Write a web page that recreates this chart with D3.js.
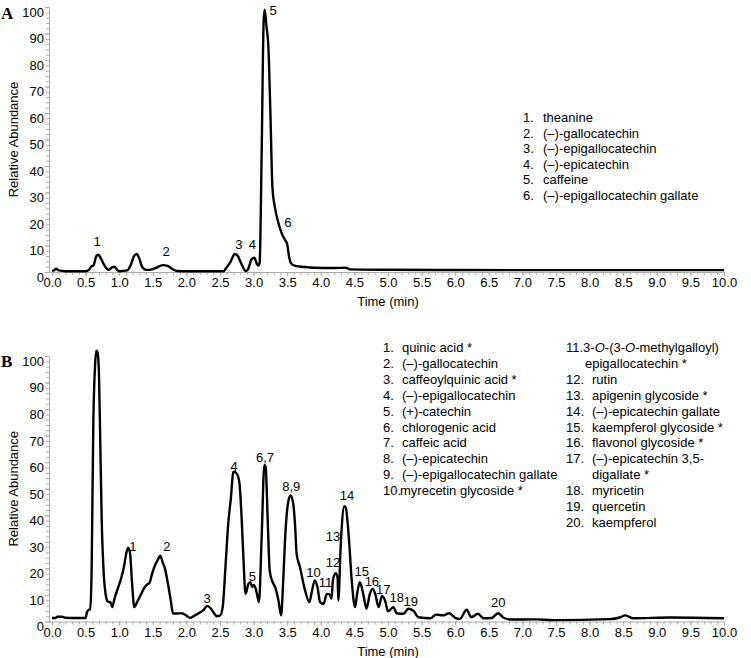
<!DOCTYPE html>
<meta charset="utf-8">
<style>
  body { margin: 0; background: #fff; }
  text { font-family: "Liberation Sans", Arial, sans-serif; font-size: 13px; fill: #000; }
  .panel-letter { font-family: "Liberation Serif", "Times New Roman", serif; font-weight: bold; font-size: 17px; }
  .axis path, .axis line { stroke: #aaa; }
  .trace { fill: none; stroke: #000; stroke-width: 2.4; stroke-linejoin: round; }
</style>
<body>
<script src="https://cdn.jsdelivr.net/npm/d3@7/dist/d3.min.js"></script>
<script>
// chromatogram A: [time (min), relative abundance]
var traceA = [
  [0.00,0.5],[0.03,0.6],[0.06,1.2],[0.10,0.6],[0.20,0.3],[0.50,0.3],[0.55,0.8],[0.58,2.0],
  [0.62,2.6],[0.66,6.0],[0.69,6.5],[0.73,5.0],[0.78,2.5],[0.84,0.8],[0.90,1.8],[0.93,2.0],
  [0.97,0.8],[1.00,0.3],[1.12,0.6],[1.17,2.5],[1.22,6.0],[1.26,6.8],[1.30,5.0],[1.34,2.0],
  [1.40,0.8],[1.47,0.9],[1.55,1.6],[1.65,2.6],[1.72,2.3],[1.80,1.0],[1.86,0.4],[2.00,0.3],
  [2.55,0.3],[2.60,1.8],[2.65,3.5],[2.72,6.8],[2.76,6.2],[2.82,3.0],[2.88,0.4],[2.92,1.2],
  [2.97,4.8],[3.01,5.4],[3.05,3.0],[3.07,2.4],[3.09,3.5],[3.12,45],[3.15,95],[3.165,99],
  [3.19,93],[3.22,85],[3.25,60],[3.28,32],[3.32,24],[3.37,18.5],[3.42,14.5],[3.47,12.0],
  [3.50,10.5],[3.53,5.5],[3.56,3.2],[3.62,2.3],[3.75,1.9],[3.90,1.6],[4.20,1.5],[4.38,1.6],
  [4.43,1.0],[5.00,0.85],[6.00,0.75],[7.00,0.7],[8.00,0.7],[9.00,0.7],[10.00,0.7]
];

// chromatogram B
var traceB = [
  [0.00,1.3],[0.05,1.3],[0.08,1.8],[0.15,1.8],[0.20,1.4],[0.30,1.3],[0.50,1.3],[0.52,3.5],
  [0.55,4.5],[0.57,4.6],[0.59,20],[0.615,75],[0.64,96],[0.66,102],[0.68,101],[0.70,92],
  [0.72,65],[0.74,38],[0.77,18],[0.80,10],[0.83,7.5],[0.87,7.2],[0.895,5.4],[0.93,8.6],
  [0.98,12.5],[1.02,15.5],[1.07,20.5],[1.10,25],[1.13,27.8],[1.16,26],[1.19,15],[1.225,5.4],
  [1.27,7.5],[1.33,10.5],[1.38,13],[1.42,14],[1.45,14.5],[1.49,18],[1.53,21],[1.58,23.5],
  [1.61,24.8],[1.65,22],[1.68,20],[1.72,15],[1.77,7.5],[1.80,3.0],[1.85,3.0],[1.93,3.1],
  [2.00,2.2],[2.05,1.4],[2.12,2.2],[2.20,3.4],[2.26,4.5],[2.31,5.9],[2.36,5.0],[2.41,3.2],
  [2.45,2.0],[2.50,2.2],[2.54,5.4],[2.58,20],[2.62,36],[2.66,46],[2.70,56.4],[2.74,56],
  [2.77,54.5],[2.79,52],[2.82,40],[2.85,23],[2.88,10.4],[2.92,14],[2.95,14.8],[2.98,13],
  [3.00,13.8],[3.03,12.5],[3.05,10.4],[3.08,7.3],[3.12,31.8],[3.16,59],[3.18,58],[3.21,38],
  [3.24,19.2],[3.28,15],[3.32,13],[3.37,7.9],[3.41,2.3],[3.44,15],[3.47,31.8],[3.52,45.7],
  [3.55,47.5],[3.59,44.4],[3.62,35],[3.64,25.5],[3.69,20.5],[3.76,12.3],[3.83,7.3],[3.86,10.4],
  [3.91,15.5],[3.95,13],[3.99,7.3],[4.04,6.6],[4.09,10.4],[4.13,10.2],[4.16,8.6],[4.18,15.5],
  [4.22,18.2],[4.25,16.5],[4.26,7.9],[4.30,30.6],[4.35,43.4],[4.37,43],[4.42,30.6],[4.46,15.5],
  [4.51,5.4],[4.54,10.4],[4.58,14.8],[4.62,11.7],[4.66,6.7],[4.68,4.8],[4.73,10.4],[4.77,12.3],
  [4.81,10.4],[4.86,5.4],[4.91,9.6],[4.96,7.6],[5.00,3.8],[5.08,5.4],[5.13,3.1],[5.23,2.9],
  [5.30,4.8],[5.38,4.0],[5.45,1.6],[5.63,1.2],[5.72,2.6],[5.82,2.3],[5.91,3.1],[6.00,1.4],
  [6.07,1.0],[6.17,4.4],[6.24,1.6],[6.34,2.9],[6.42,1.2],[6.54,1.3],[6.64,3.1],[6.72,1.4],
  [6.82,0.75],[7.20,0.8],[7.46,0.5],[8.30,0.9],[8.45,1.5],[8.53,2.3],[8.65,1.2],[9.20,1.5],
  [10.00,1.2]
];

// peak numbers: [label, time, abundance] where the number sits
var peaksA = [["1",0.67,11.5],["2",1.70,7.7],["3",2.78,10.4],["4",2.98,10.4],["5",3.29,98.8],["6",3.51,18.6]];
var peaksB = [
  ["1",1.205,28.4],["2",1.71,28.4],["3",2.31,8.7],["4",2.71,58.2],["5",2.98,16.8],["6,7",3.17,61.6],
  ["8,9",3.56,50.7],["10",3.89,18.3],["11",4.07,14.6],["12",4.18,22.4],["13",4.18,32.2],["14",4.39,47.6],
  ["15",4.61,19.0],["16",4.76,14.9],["17",4.93,11.9],["18",5.13,8.9],["19",5.34,7.7],["20",6.64,7.0]
];

var legendA = ["theanine","(–)-gallocatechin","(–)-epigallocatechin","(–)-epicatechin","caffeine","(–)-epigallocatechin gallate"];
var legendB1 = ["quinic acid *","(–)-gallocatechin","caffeoylquinic acid *","(–)-epigallocatechin","(+)-catechin",
  "chlorogenic acid","caffeic acid","(–)-epicatechin","(–)-epigallocatechin gallate","myrecetin glycoside *"];
var legendB2 = ["rutin","apigenin glycoside *","(–)-epicatechin gallate","kaempferol glycoside *","flavonol glycoside *",
  "(–)-epicatechin 3,5-","myricetin","quercetin","kaempferol"];

var xTicks = d3.range(0, 10.01, 0.5);
var yTicks = d3.range(0, 101, 10);

var svg = d3.select("body").append("svg").attr("width", 751).attr("height", 658);

function panel(letter, trace, peaks, y0, y100, letterY) {
  var x = d3.scaleLinear().domain([0, 10]).range([52, 724]);
  var y = d3.scaleLinear().domain([0, 100]).range([y0, y100]);
  var g = svg.append("g");

  // minor ticks
  g.append("g").attr("class", "axis").attr("transform", "translate(0," + y0 + ")")
    .call(d3.axisBottom(x).tickValues(d3.range(0, 10.01, 0.1)).tickSize(3).tickFormat(""))
    .select(".domain").remove();
  g.append("g").attr("class", "axis").attr("transform", "translate(49,0)")
    .call(d3.axisLeft(y).tickValues(d3.range(0, 101, 2)).tickSize(3).tickFormat(""))
    .select(".domain").remove();

  // x axis
  var gx = g.append("g").attr("class", "axis").attr("transform", "translate(0," + y0 + ")")
    .call(d3.axisBottom(x).tickValues(xTicks).tickSize(4).tickSizeOuter(0).tickFormat(d3.format(".1f")));
  gx.select(".domain").attr("d", "M49,0.5H724");
  gx.selectAll("text").attr("y", 6).attr("dy", "0.71em").style("font-size", "13px");

  // y axis
  var gy = g.append("g").attr("class", "axis").attr("transform", "translate(49,0)")
    .call(d3.axisLeft(y).tickValues(yTicks).tickSize(4).tickSizeOuter(0));
  gy.selectAll("text").attr("x", -5).attr("dy", "0.72em").style("font-size", "13px");

  g.append("text").attr("transform", "translate(18," + ((y0 + y100) / 2) + ") rotate(-90)")
    .attr("text-anchor", "middle").text("Relative Abundance");
  g.append("text").attr("x", 388).attr("y", y0 + 34).attr("text-anchor", "middle").text("Time (min)");
  g.append("text").attr("class", "panel-letter").attr("x", 1).attr("y", letterY).text(letter);

  g.append("path").datum(trace).attr("class", "trace")
    .attr("d", d3.line().x(function (d) { return x(d[0]); }).y(function (d) { return y(d[1]); }).curve(d3.curveMonotoneX));

  g.selectAll(".peak").data(peaks).enter().append("text")
    .attr("x", function (d) { return x(d[1]); })
    .attr("y", function (d) { return y(d[2]) + 4.5; })
    .attr("text-anchor", "middle").text(function (d) { return d[0]; });
}

panel("A", traceA, peaksA, 272, 7, 19);
panel("B", traceB, peaksB, 621.5, 356, 367);

// legend A
legendA.forEach(function (t, i) {
  var yy = 122 + i * 15.6;
  svg.append("text").attr("x", 523).attr("y", yy).text((i + 1) + ".");
  svg.append("text").attr("x", 543).attr("y", yy).text(t);
});

// legend B, first column
legendB1.forEach(function (t, i) {
  var yy = 352 + i * 15.9;
  svg.append("text").attr("x", 383).attr("y", yy).text((i + 1) + ".");
  svg.append("text").attr("x", i == 9 ? 400 : 402).attr("y", yy).text(t);
});

// legend B, second column
var r0 = 352;
var t11 = svg.append("text").attr("x", 566).attr("y", r0);
t11.append("tspan").text("11.3-");
t11.append("tspan").style("font-style", "italic").text("O");
t11.append("tspan").text("-(3-");
t11.append("tspan").style("font-style", "italic").text("O");
t11.append("tspan").text("-methylgalloyl)");
svg.append("text").attr("x", 585).attr("y", r0 + 15.9).text("epigallocatechin *");
var rows2 = [2, 3, 4, 5, 6, 7, 9, 10, 11];
legendB2.forEach(function (t, i) {
  var yy = r0 + rows2[i] * 15.9;
  svg.append("text").attr("x", 566).attr("y", yy).text((i + 12) + ".");
  svg.append("text").attr("x", 592).attr("y", yy).text(t);
});
svg.append("text").attr("x", 592).attr("y", r0 + 8 * 15.9).text("digallate *");
</script>
</body>
